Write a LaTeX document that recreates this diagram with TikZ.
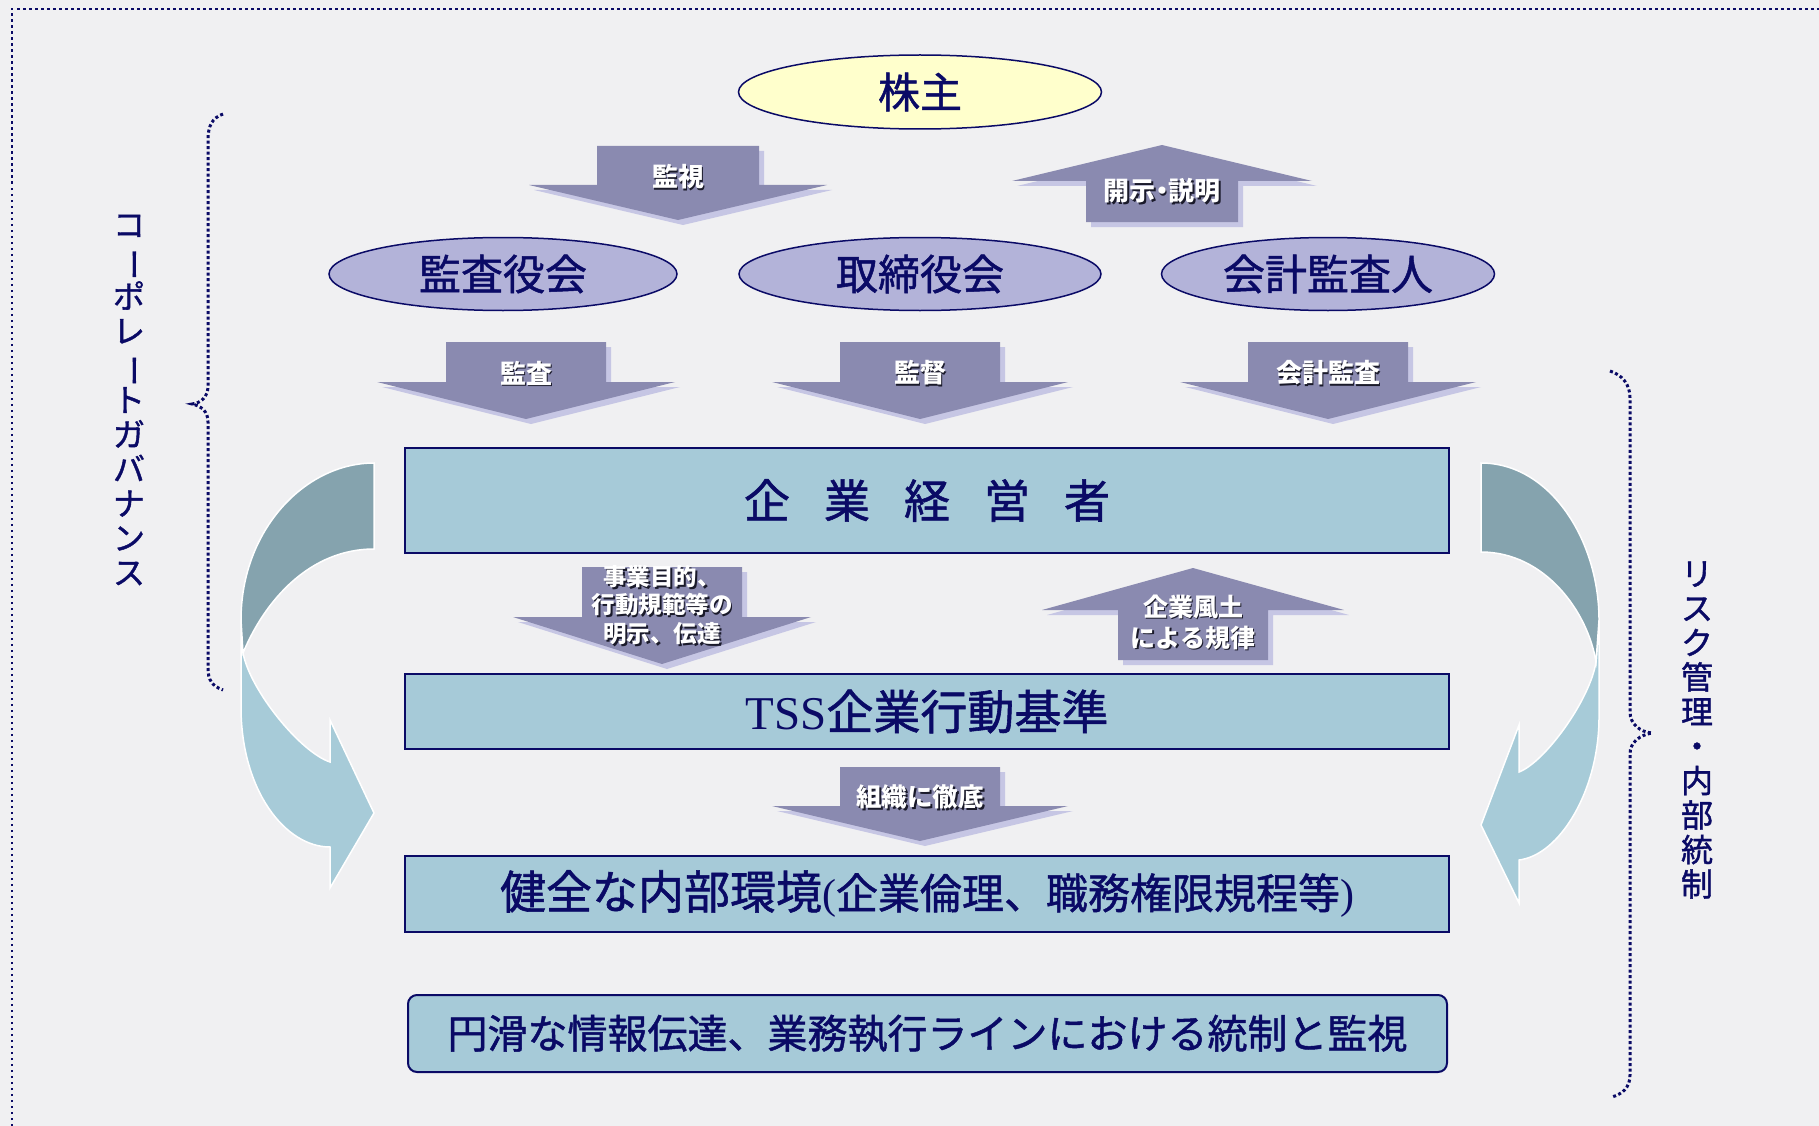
\documentclass[tikz,border=0pt]{standalone}
\usepackage{fontspec}
\usepackage{graphicx}
\usetikzlibrary{shapes.geometric}
\newfontfamily\jp{Noto Sans CJK JP}[FakeBold=1.2]
\newfontfamily\jpb{Noto Sans CJK JP}
\newfontfamily\enserif{Liberation Serif}
\definecolor{inkblue}{HTML}{0A0A66}
\definecolor{paper}{HTML}{F0F0F2}
\definecolor{lav}{HTML}{B3B3D9}
\definecolor{arrowc}{HTML}{8A8AB0}
\definecolor{arrowsh}{HTML}{C6C6E4}
\definecolor{boxc}{HTML}{A6CAD8}
\definecolor{curvedark}{HTML}{85A3AE}
\definecolor{curvelight}{HTML}{A7CBD8}
\definecolor{yel}{HTML}{FFFFCC}
\definecolor{shadowc}{HTML}{1A1A2A}
\newcommand\shd[1]{\leavevmode\rlap{\kern1.8pt\raisebox{-1.8pt}{\color{shadowc}#1}}#1}
\newcommand\vbar{\rotatebox[origin=c]{-90}{ー}}
\tikzset{
  arrowbody/.style={fill=arrowc},
  arrowshade/.style={fill=arrowsh, shift={(5,5)}},
  ell/.style={ellipse, draw=inkblue, line width=1.5pt, inner sep=0pt, text=inkblue,
    font={\jp\fontsize{42}{48}\selectfont}},
  mainbox/.style={rectangle, draw=inkblue, line width=2pt, fill=boxc, inner sep=0pt,
    text=inkblue, minimum width=1044pt},
  lbl/.style={text=white, inner sep=0pt, align=center,
    font={\jpb\bfseries\fontsize{26}{30}\selectfont}},
  vtext/.style={text=inkblue, inner sep=0pt, align=center,
    font={\jp\fontsize{32}{34.5}\selectfont}},
  bracec/.style={draw=inkblue, line width=3pt, dash pattern=on 3pt off 2.5pt},
  curvepart/.style={draw=white, line width=1.5pt},
}
\newcommand\blockarrow[6]{%
  \fill[arrowshade] (#1-#3,#2) -- (#1+#3,#2) -- (#1+#3,#5) -- (#1+#4,#5) -- (#1,#6) -- (#1-#4,#5) -- (#1-#3,#5) -- cycle;
  \fill[arrowbody] (#1-#3,#2) -- (#1+#3,#2) -- (#1+#3,#5) -- (#1+#4,#5) -- (#1,#6) -- (#1-#4,#5) -- (#1-#3,#5) -- cycle;}
\begin{document}
\begin{tikzpicture}[x=1pt,y=-1pt]
\useasboundingbox (0,0) rectangle (1819,1126);
\fill[paper] (0,0) rectangle (1819,1126);
% outer dotted border
\draw[draw=inkblue, line width=2.5pt, dash pattern=on 2.5pt off 3.5pt] (12,1126) -- (12,9) -- (1819,9);

% braces
\draw[bracec] (223,114) .. controls (212,118) and (208,126) .. (208,140) -- (208,386)
  .. controls (208,397) and (201,403) .. (192,404) .. controls (201,406) and (208,411) .. (208,422)
  -- (208,668) .. controls (208,680) and (212,686) .. (223,690);
\draw[bracec] (1610,371) .. controls (1622,375) and (1630,384) .. (1630,398) -- (1630,712)
  .. controls (1630,724) and (1640,732) .. (1652,733) .. controls (1640,735) and (1630,742) .. (1630,754)
  -- (1630,1075) .. controls (1630,1088) and (1622,1094) .. (1612,1097);

% vertical texts
\node[vtext] (cg) at (129,400) {コ\\\vbar\\ポ\\レ\\\vbar\\ト\\ガ\\バ\\ナ\\ン\\ス};
\node[vtext] (rk) at (1697,730) {リ\\ス\\ク\\管\\理\\・\\内\\部\\統\\制};

% curved arrows left
\fill[curvelight, curvepart] (241,620) -- (241,707) .. controls (241,790) and (285,847) .. (330,847)
  -- (330,888) -- (374,813) -- (330,720) -- (330,762)
  .. controls (300,752) and (250,690) .. (243,653) -- cycle;
\fill[curvedark, curvepart] (374,463) .. controls (305,463) and (241,530) .. (241,620) -- (243,653)
  .. controls (265,600) and (310,549) .. (374,549) -- cycle;
% curved arrows right
\fill[curvelight, curvepart] (1599,620) -- (1599,717) .. controls (1599,790) and (1560,855) .. (1519,860)
  -- (1519,903) -- (1481,825) -- (1519,725) -- (1519,772)
  .. controls (1545,762) and (1590,700) .. (1596,662) -- cycle;
\fill[curvedark, curvepart] (1481,463) .. controls (1550,463) and (1599,540) .. (1599,620) -- (1596,662)
  .. controls (1588,612) and (1545,552) .. (1481,552) -- cycle;

% ellipses
\node[ell, fill=yel, minimum width=363pt, minimum height=74pt] (kabu) at (920,92) {株主};
\node[ell, fill=lav, minimum width=348pt, minimum height=73pt] (kansayaku) at (503,274) {監査役会};
\node[ell, fill=lav, minimum width=362pt, minimum height=73pt] (torishimari) at (920,274) {取締役会};
\node[ell, fill=lav, minimum width=333pt, minimum height=73pt] (kaikei) at (1328,274) {会計監査人};

% boxes
\node[mainbox, minimum height=105pt, font={\jp\fontsize{46}{52}\selectfont}] (keiei) at (927,500.5)
  {企\hspace{34pt}業\hspace{34pt}経\hspace{34pt}営\hspace{34pt}者};
\node[mainbox, minimum height=75pt, font={\jp\fontsize{47}{52}\selectfont}] (tss) at (927,711.5)
  {{\enserif TSS}企業行動基準};
\node[mainbox, minimum height=76pt, font={\jp\fontsize{46}{52}\selectfont}] (naibu) at (927,894)
  {健全な内部環境{\fontsize{42}{48}\selectfont{\enserif(}企業倫理、職務権限規程等{\enserif)}}};
\node[mainbox, rounded corners=9pt, minimum width=1039pt, minimum height=77pt,
  font={\jp\fontsize{40}{48}\selectfont}] (joho) at (927.5,1033.5)
  {円滑な情報伝達、業務執行ラインにおける統制と監視};

% block arrows
\blockarrow{678}{146}{81}{149}{185}{220}
\blockarrow{1162}{222}{76}{150}{181}{145}
\blockarrow{526}{342}{80}{149}{382}{419}
\blockarrow{920}{342}{80}{148}{382}{419}
\blockarrow{1328}{342}{80}{148}{382}{419}
\blockarrow{662}{567}{80}{149}{617}{664}
\blockarrow{1193}{660}{75}{151}{610}{568}
\blockarrow{920}{767}{80}{148}{806}{841}

% arrow labels
\node[lbl] (l1) at (678,178) {\shd{監視}};
\node[lbl] (l2) at (1162,192) {\shd{開示\kern-.25em・\kern-.25em説明}};
\node[lbl] (l3) at (526,374) {\shd{監査}};
\node[lbl] (l4) at (920,374) {\shd{監督}};
\node[lbl] (l5) at (1328,374) {\shd{会計監査}};
\node[lbl, font={\jpb\bfseries\fontsize{23.5}{28.5}\selectfont}] (l6) at (662,606)
  {\shd{事業目的、}\\\shd{行動規範等の}\\\shd{明示、伝達}};
\node[lbl, font={\jpb\bfseries\fontsize{25}{31}\selectfont}] (l7) at (1193,623)
  {\shd{企業風土}\\\shd{による規律}};
\node[lbl, font={\jpb\bfseries\fontsize{25.5}{30}\selectfont}] (l8) at (920,798) {\shd{組織に徹底}};
\end{tikzpicture}
\end{document}
